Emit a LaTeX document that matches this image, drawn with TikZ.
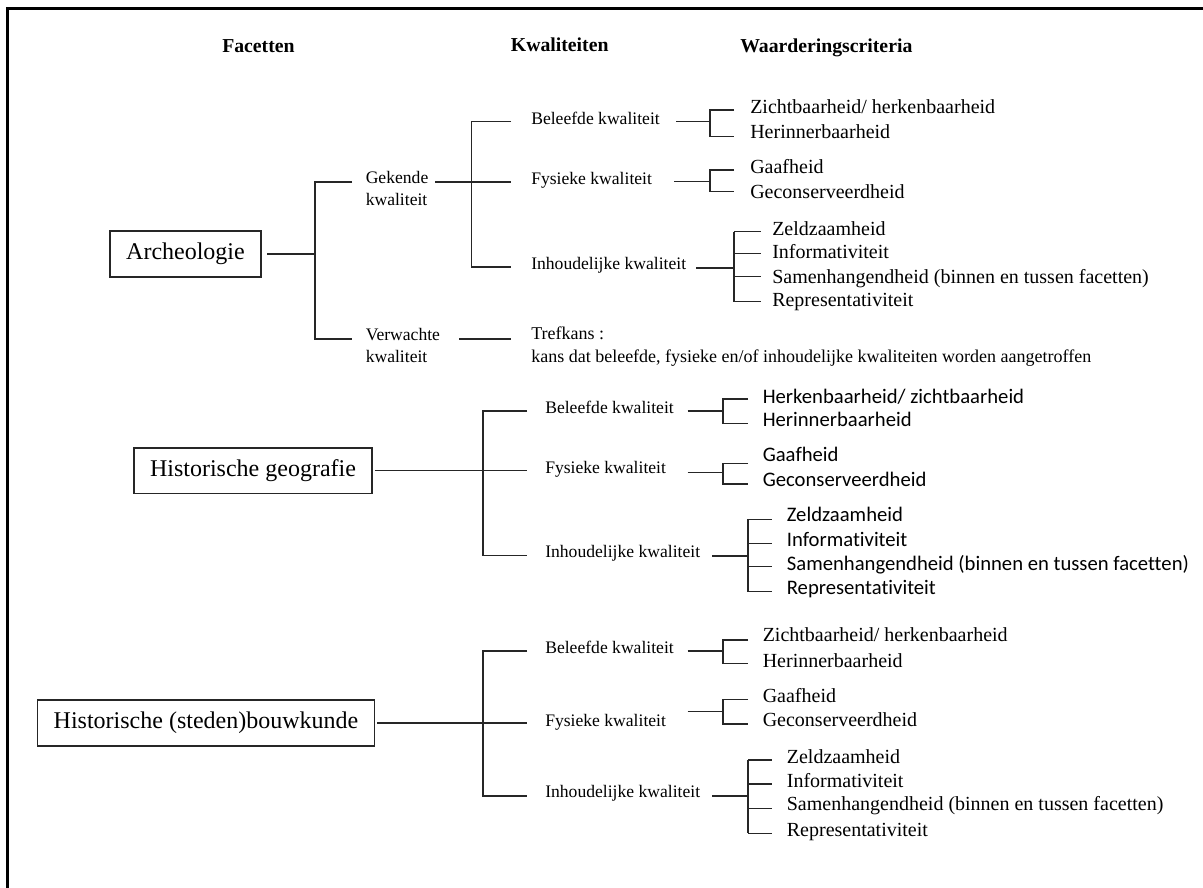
\documentclass[tikz,border=0pt]{standalone}
\usepackage{fontspec}
\setmainfont{Liberation Serif}
\newfontfamily\sansf[Ligatures={NoCommon}]{Carlito}
\begin{document}
\begin{tikzpicture}[x=0.75pt,y=-0.75pt,
  conn/.style={line width=1.1pt,draw=black!85},
  hdr/.style={font=\fontsize{14.8}{17}\selectfont\bfseries,anchor=base west,inner sep=0pt},
  facet/.style={draw=black!85,line width=1.2pt,font=\fontsize{18}{21}\selectfont,inner sep=0pt,anchor=center},
  lbl/.style={font=\fontsize{13.2}{16.5}\selectfont,anchor=base west,inner sep=0pt},
  tref/.style={font=\fontsize{13.5}{17.6}\selectfont,anchor=base west,inner sep=0pt},
  crit/.style={font=\fontsize{15}{18}\selectfont,anchor=base west,inner sep=0pt},
  scrit/.style={font=\sansf\fontsize{15.5}{18}\selectfont,anchor=base west,inner sep=0pt},
  frame/.style={line width=2pt,draw=black}]

\useasboundingbox (0,0) rectangle (1203,888);
\fill[white] (0,0) rectangle (1203,888);
\coordinate (fTL) at (7.3,8.3);
\coordinate (fTR) at (1205,8.3);
\coordinate (fBL) at (7.3,890);
\draw[frame] (fTR) -- (fTL) -- (fBL);

% headers
\node[hdr] (hF) at (222,53) {Facetten};
\node[hdr] (hK) at (510.7,52) {Kwaliteiten};
\node[hdr] (hW) at (740,53) {Waarderingscriteria};

% ================= Section 1: Archeologie
\node[facet,minimum width=113.25pt,minimum height=34.5pt] (arch) at (185.5,254) {Archeologie};
\coordinate (aJ) at (315,254);
\coordinate (aT) at (315,182);
\coordinate (aTe) at (352,182);
\coordinate (aB) at (315,339);
\coordinate (aBe) at (352,339);
\draw[conn] ([xshift=4pt]arch.east) -- (aJ);
\draw[conn] (aTe) -- (aT) -- (aB) -- (aBe);

\node[lbl] (gek) at (365.5,184) {\begin{tabular}[t]{@{}l@{}}Gekende\\kwaliteit\end{tabular}};
\node[lbl] (ver) at (365.5,340) {\begin{tabular}[t]{@{}l@{}}Verwachte\\kwaliteit\end{tabular}};

\coordinate (g0) at (435,182);
\coordinate (g1) at (511,182);
\coordinate (kT) at (471.5,121.7);
\coordinate (kTe) at (511,121.7);
\coordinate (kB) at (471.5,267);
\coordinate (kBe) at (511,267);
\draw[conn] (g0) -- (g1);
\draw[conn] (kTe) -- (kT) -- (kB) -- (kBe);
\coordinate (v0) at (459,339);
\coordinate (v1) at (511,339);
\draw[conn] (v0) -- (v1);

\node[lbl] (b1) at (531,124.5) {Beleefde kwaliteit};
\node[lbl] (f1) at (531,185) {Fysieke kwaliteit};
\node[lbl] (i1) at (531,269.5) {Inhoudelijke kwaliteit};
\node[tref] (t1) at (531,339.5) {\begin{tabular}[t]{@{}l@{}}Trefkans :\\kans dat beleefde, fysieke en/of inhoudelijke kwaliteiten worden aangetroffen\end{tabular}};

% Beleefde bracket
\coordinate (b1a) at (676,121.7);
\coordinate (b1b) at (710,121.7);
\coordinate (b1t) at (710,110);
\coordinate (b1te) at (734,110);
\coordinate (b1u) at (710,136.7);
\coordinate (b1ue) at (734,136.7);
\draw[conn] (b1a) -- (b1b);
\draw[conn] (b1te) -- (b1t) -- (b1u) -- (b1ue);
\node[crit] (c11) at (750,113.3) {Zichtbaarheid/ herkenbaarheid};
\node[crit] (c12) at (750,138.3) {Herinnerbaarheid};

% Fysieke bracket
\coordinate (f1a) at (674,181.7);
\coordinate (f1b) at (710,181.7);
\coordinate (f1t) at (710,170);
\coordinate (f1te) at (734,170);
\coordinate (f1u) at (710,191.7);
\coordinate (f1ue) at (734,191.7);
\draw[conn] (f1a) -- (f1b);
\draw[conn] (f1te) -- (f1t) -- (f1u) -- (f1ue);
\node[crit] (c13) at (750,174) {Gaafheid};
\node[crit] (c14) at (750,198.3) {Geconserveerdheid};

% Inhoudelijke bracket
\coordinate (i1a) at (696,268);
\coordinate (i1b) at (734,268);
\coordinate (i1t) at (734,231.7);
\coordinate (i1u) at (734,301.7);
\draw[conn] (i1a) -- (i1b);
\draw[conn] (i1t) -- (i1u);
\foreach \n/\y in {1/231.7,2/253.3,3/276.7,4/301.7}{
  \coordinate (i1s\n) at (734,\y);
  \coordinate (i1e\n) at (761,\y);
  \draw[conn] (i1s\n) -- (i1e\n);
}
\node[crit] (c15) at (772,235) {Zeldzaamheid};
\node[crit] (c16) at (772,258.3) {Informativiteit};
\node[crit] (c17) at (772,283.3) {Samenhangendheid (binnen en tussen facetten)};
\node[crit] (c18) at (772,306.7) {Representativiteit};

% ================= Section 2: Historische geografie
\node[facet,minimum width=178.5pt,minimum height=34.2pt] (geo) at (253,470.5) {Historische geografie};
\coordinate (hgJ) at (527,470.5);
\coordinate (hgT) at (483,411);
\coordinate (hgTe) at (527,411);
\coordinate (hgB) at (483,555.5);
\coordinate (hgBe) at (527,555.5);
\draw[conn] ([xshift=1.5pt]geo.east) -- (hgJ);
\draw[conn] (hgTe) -- (hgT) -- (hgB) -- (hgBe);

\node[lbl] (b2) at (545,413.5) {Beleefde kwaliteit};
\node[lbl] (f2) at (545,473) {Fysieke kwaliteit};
\node[lbl] (i2) at (545,557.5) {Inhoudelijke kwaliteit};

\coordinate (b2a) at (687.5,411);
\coordinate (b2b) at (723,411);
\coordinate (b2t) at (723,399);
\coordinate (b2te) at (748,399);
\coordinate (b2u) at (723,423.3);
\coordinate (b2ue) at (748,423.3);
\draw[conn] (b2a) -- (b2b);
\draw[conn] (b2te) -- (b2t) -- (b2u) -- (b2ue);
\node[scrit] (c21) at (762.5,403) {Herkenbaarheid/ zichtbaarheid};
\node[scrit] (c22) at (762.5,426) {Herinnerbaarheid};

\coordinate (f2a) at (687.5,472.7);
\coordinate (f2b) at (723,472.7);
\coordinate (f2t) at (723,463.3);
\coordinate (f2te) at (748,463.3);
\coordinate (f2u) at (723,484);
\coordinate (f2ue) at (748,484);
\draw[conn] (f2a) -- (f2b);
\draw[conn] (f2te) -- (f2t) -- (f2u) -- (f2ue);
\node[scrit] (c23) at (762.5,461.7) {Gaafheid};
\node[scrit] (c24) at (762.5,486.7) {Geconserveerdheid};

\coordinate (i2a) at (712,556);
\coordinate (i2b) at (748,556);
\coordinate (i2t) at (748,519.3);
\coordinate (i2u) at (748,591.7);
\draw[conn] (i2a) -- (i2b);
\draw[conn] (i2t) -- (i2u);
\foreach \n/\y in {1/519.3,2/543.3,3/566.7,4/591.7}{
  \coordinate (i2s\n) at (748,\y);
  \coordinate (i2e\n) at (772,\y);
  \draw[conn] (i2s\n) -- (i2e\n);
}
\node[scrit] (c25) at (786.6,521.7) {Zeldzaamheid};
\node[scrit] (c26) at (786.6,546) {Informativiteit};
\node[scrit] (c27) at (786.6,570.5) {Samenhangendheid (binnen en tussen facetten)};
\node[scrit] (c28) at (786.6,594) {Representativiteit};

% ================= Section 3: Historische (steden)bouwkunde
\node[facet,minimum width=253pt,minimum height=34.5pt] (bouw) at (206,723) {Historische (steden)bouwkunde};
\coordinate (hbJ) at (527,723);
\coordinate (hbT) at (483,651);
\coordinate (hbTe) at (527,651);
\coordinate (hbB) at (483,796);
\coordinate (hbBe) at (527,796);
\draw[conn] ([xshift=1.5pt]bouw.east) -- (hbJ);
\draw[conn] (hbTe) -- (hbT) -- (hbB) -- (hbBe);

\node[lbl] (b3) at (545,653.5) {Beleefde kwaliteit};
\node[lbl] (f3) at (545,726) {Fysieke kwaliteit};
\node[lbl] (i3) at (545,797.5) {Inhoudelijke kwaliteit};

\coordinate (b3a) at (687.5,651);
\coordinate (b3b) at (723,651);
\coordinate (b3t) at (723,640);
\coordinate (b3te) at (748,640);
\coordinate (b3u) at (723,663.3);
\coordinate (b3ue) at (748,663.3);
\draw[conn] (b3a) -- (b3b);
\draw[conn] (b3te) -- (b3t) -- (b3u) -- (b3ue);
\node[crit] (c31) at (762.5,641.7) {Zichtbaarheid/ herkenbaarheid};
\node[crit] (c32) at (762.5,667) {Herinnerbaarheid};

\coordinate (f3a) at (687.5,711.7);
\coordinate (f3b) at (723,711.7);
\coordinate (f3t) at (723,699.3);
\coordinate (f3te) at (748,699.3);
\coordinate (f3u) at (723,724);
\coordinate (f3ue) at (748,724);
\draw[conn] (f3a) -- (f3b);
\draw[conn] (f3te) -- (f3t) -- (f3u) -- (f3ue);
\node[crit] (c33) at (762.5,702.7) {Gaafheid};
\node[crit] (c34) at (762.5,726.7) {Geconserveerdheid};

\coordinate (i3a) at (712,796);
\coordinate (i3b) at (748,796);
\coordinate (i3t) at (748,760);
\coordinate (i3u) at (748,833.3);
\draw[conn] (i3a) -- (i3b);
\draw[conn] (i3t) -- (i3u);
\foreach \n/\y in {1/760,2/784,3/808.3,4/833.3}{
  \coordinate (i3s\n) at (748,\y);
  \coordinate (i3e\n) at (772,\y);
  \draw[conn] (i3s\n) -- (i3e\n);
}
\node[crit] (c35) at (786.6,763.3) {Zeldzaamheid};
\node[crit] (c36) at (786.6,787.3) {Informativiteit};
\node[crit] (c37) at (786.6,810.7) {Samenhangendheid (binnen en tussen facetten)};
\node[crit] (c38) at (786.6,836) {Representativiteit};
\end{tikzpicture}
\end{document}
